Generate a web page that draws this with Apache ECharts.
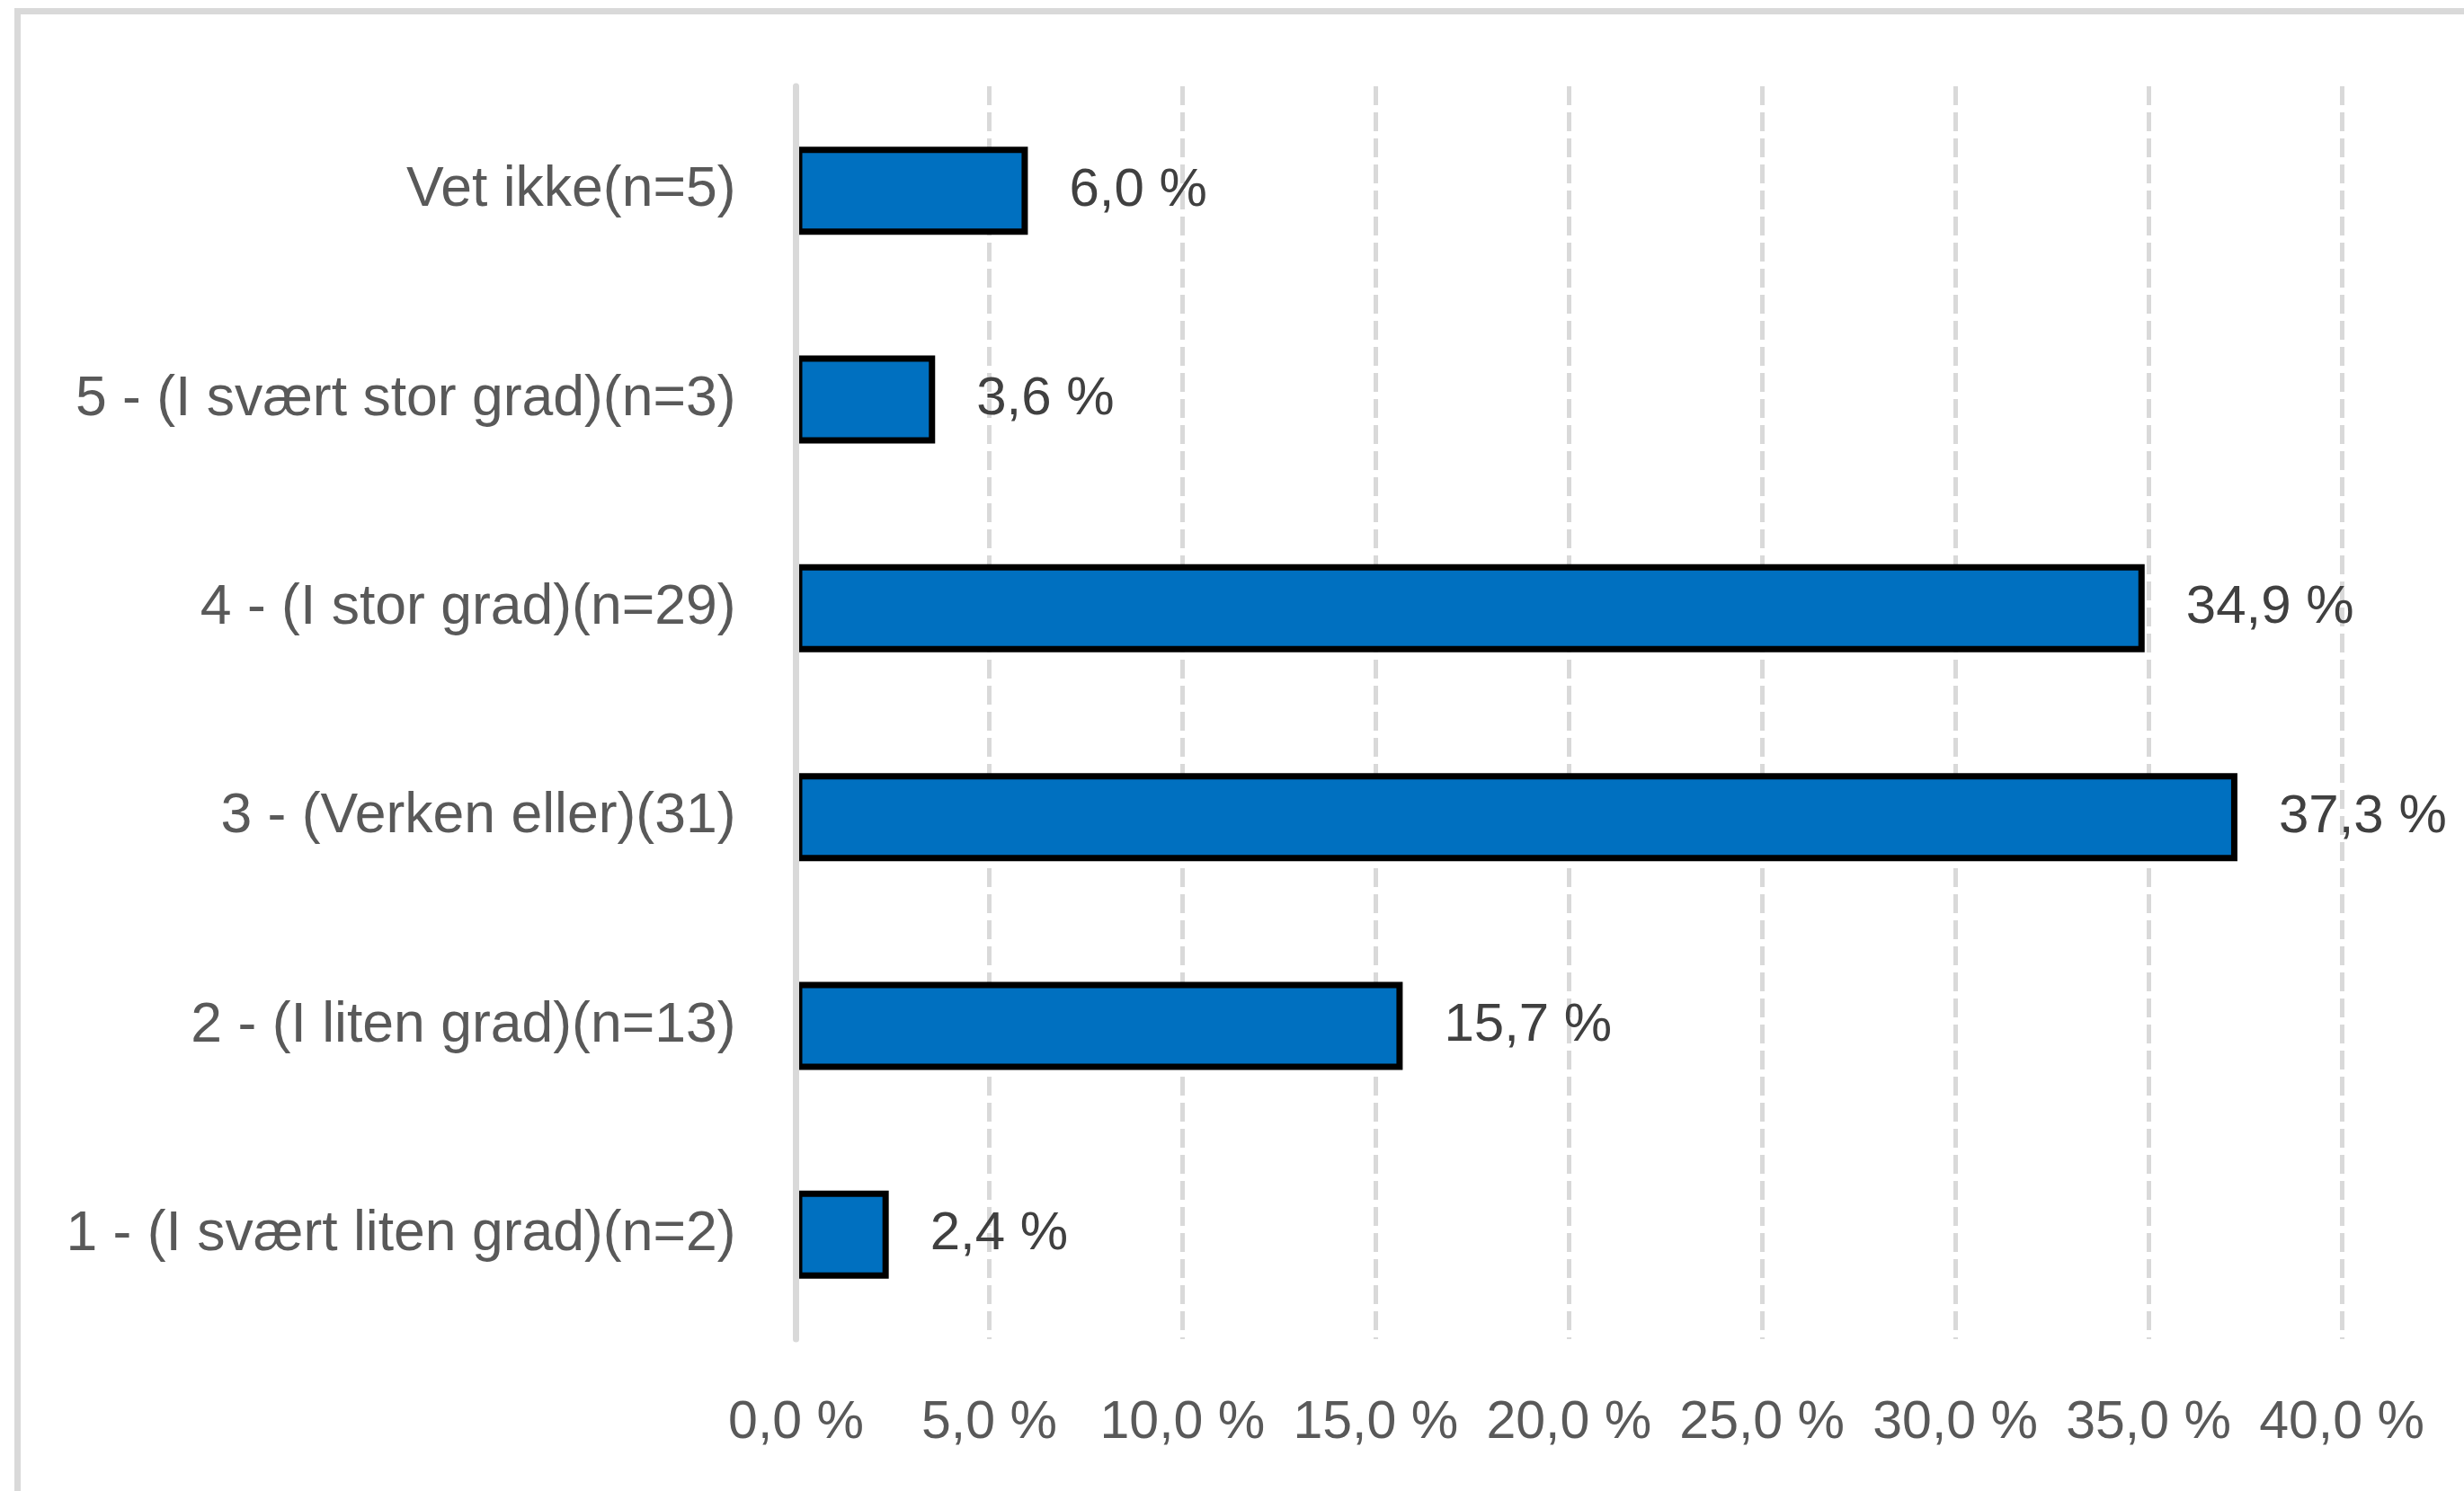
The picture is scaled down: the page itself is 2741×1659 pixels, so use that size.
<!DOCTYPE html>
<html>
<head>
<meta charset="utf-8">
<script src="https://cdn.jsdelivr.net/npm/echarts@6/dist/echarts.min.js"></script>
<style>
html,body{margin:0;padding:0;background:#fff;}
#chart{width:2741px;height:1659px;}
</style>
</head>
<body>
<div id="chart"></div>
<script>
const categories = [
  "1 - (I svært liten grad)(n=2)",
  "2 - (I liten grad)(n=13)",
  "3 - (Verken eller)(31)",
  "4 - (I stor grad)(n=29)",
  "5 - (I svært stor grad)(n=3)",
  "Vet ikke(n=5)"
];
const percentValues = [2.4, 15.7, 37.3, 34.9, 3.6, 6.0];
const axisMin = 0;
const axisMax = 40;
const axisStep = 5;

function fmt(v) { return Number(v).toFixed(1).replace('.', ',') + ' %'; }

const chart = echarts.init(document.getElementById('chart'), null, {renderer: 'canvas'});
chart.setOption({
  backgroundColor: '#ffffff',
  animation: false,
  graphic: [{
    type: 'rect',
    shape: {x: 19.5, y: 12.5, width: 4000, height: 4000},
    style: {fill: 'none', stroke: '#d9d9d9', lineWidth: 7},
    silent: true,
    z: 0
  }],
  grid: {left: 885.5, right: 2741 - 2605, top: 96, bottom: 1659 - 1490, containLabel: false},
  xAxis: {
    type: 'value',
    min: axisMin, max: axisMax, interval: axisStep,
    axisLine: {show: false},
    axisTick: {show: false},
    splitLine: {show: true, lineStyle: {color: '#d9d9d9', width: 5, type: [21, 8]}},
    axisLabel: {
      formatter: fmt, margin: 64,
      color: '#595959', fontSize: 59, fontFamily: 'Liberation Sans'
    }
  },
  yAxis: {
    type: 'category',
    data: categories,
    z: 5,
    axisLine: {show: true, lineStyle: {color: '#d9d9d9', width: 7}},
    axisTick: {show: false},
    splitLine: {show: false},
    axisLabel: {
      margin: 67, padding: [9, 0, 0, 0],
      color: '#595959', fontSize: 62.5, fontFamily: 'Liberation Sans'
    }
  },
  series: [{
    type: 'bar',
    data: percentValues,
    barWidth: 98,
    itemStyle: {color: '#0070C0', borderColor: '#000000', borderWidth: 7},
    label: {
      show: true, position: 'right', distance: 46, padding: [10, 0, 0, 0],
      formatter: p => fmt(p.value),
      color: '#404040', fontSize: 60, fontFamily: 'Liberation Sans'
    }
  }]
});
</script>
</body>
</html>
